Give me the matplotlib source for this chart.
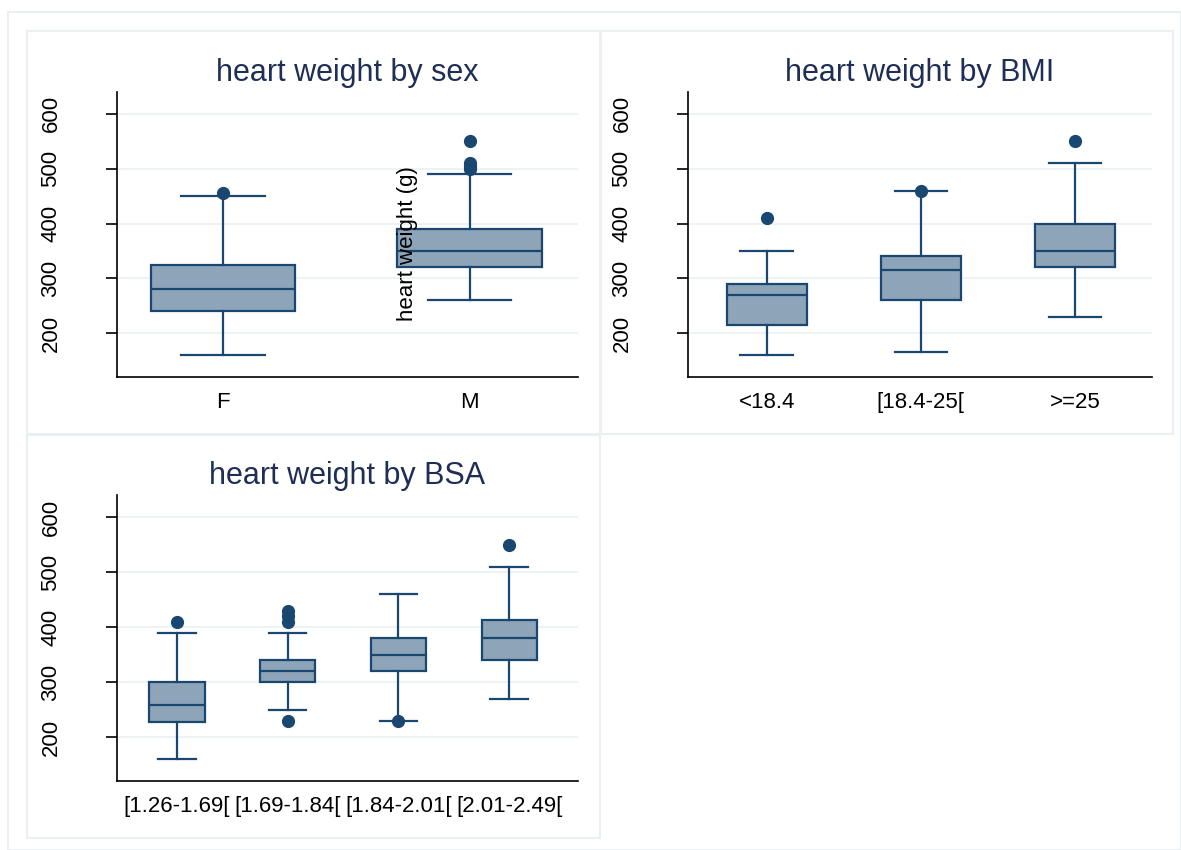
import matplotlib
matplotlib.use("Agg")
import matplotlib.pyplot as plt
from matplotlib.patches import Rectangle

plt.rcParams['font.family'] = ['Liberation Sans', 'DejaVu Sans']

# heart weight (g) by sex
sex_labels = ["F", "M"]
sex_whislo = [160, 260]
sex_q1 = [240, 320]
sex_med = [280, 350]
sex_q3 = [325, 390]
sex_whishi = [450, 490]
sex_fliers = [[455], [500, 505, 510, 550]]

# heart weight by BMI
bmi_labels = ["<18.4", "[18.4-25[", ">=25"]
bmi_whislo = [160, 165, 230]
bmi_q1 = [215, 260, 320]
bmi_med = [270, 315, 350]
bmi_q3 = [290, 340, 400]
bmi_whishi = [350, 460, 510]
bmi_fliers = [[410], [460], [550]]

# heart weight by BSA
bsa_labels = ["[1.26-1.69[", "[1.69-1.84[", "[1.84-2.01[", "[2.01-2.49["]
bsa_whislo = [160, 250, 230, 270]
bsa_q1 = [228, 300, 320, 340]
bsa_med = [258, 320, 350, 380]
bsa_q3 = [300, 340, 380, 412]
bsa_whishi = [390, 390, 460, 510]
bsa_fliers = [[410], [230, 410, 420, 430], [230], [550]]

NAVY = "#1A476F"
FILL = "#8EA4B8"
TITLE = "#1F2E55"
GRID = "#EAF0F2"
W, H = 1181, 850


def fig_rect(left, top, right, bottom):
    return [left / W, 1 - bottom / H, (right - left) / W, (bottom - top) / H]


def box_panel(ax, title, labels, whislo, q1, med, q3, whishi, fliers, xlim, width):
    stats = []
    for i in range(len(labels)):
        stats.append(dict(whislo=whislo[i], q1=q1[i], med=med[i], q3=q3[i],
                          whishi=whishi[i], fliers=fliers[i]))
    pos = list(range(len(labels)))
    ax.bxp(stats, positions=pos, widths=width, patch_artist=True,
           capwidths=0.34,
           boxprops=dict(facecolor=FILL, edgecolor=NAVY, linewidth=1.6),
           medianprops=dict(color=NAVY, linewidth=1.6),
           whiskerprops=dict(color=NAVY, linewidth=1.6),
           capprops=dict(color=NAVY, linewidth=1.6),
           flierprops=dict(marker="o", markerfacecolor=NAVY, markeredgecolor=NAVY,
                           markersize=8.5, linestyle="none"))
    ax.set_xlim(*xlim)
    ax.set_ylim(120, 640)
    ax.set_yticks([200, 300, 400, 500, 600])
    ax.set_xticks(pos)
    ax.set_xticklabels(labels)
    ax.grid(axis="y", color=GRID, linewidth=1.2)
    ax.set_axisbelow(True)
    ax.patch.set_alpha(0)
    for s in ["top", "right"]:
        ax.spines[s].set_visible(False)
    ax.spines["left"].set_linewidth(1.2)
    ax.spines["bottom"].set_linewidth(1.2)
    ax.tick_params(axis="y", length=8, width=1.2, pad=32, labelsize=16,
                   labelrotation=90)
    for lab in ax.get_yticklabels():
        lab.set_va("center")
    ax.tick_params(axis="x", length=0, pad=11, labelsize=16)
    ax.set_title(title, color=TITLE, fontsize=22, pad=8)


fig = plt.figure(figsize=(W / 100, H / 100), dpi=100)

# outer frame and panel frames, kept behind the axes
fig.patches.append(Rectangle((8 / W, 0), (W - 8) / W, 1 - 12 / H, transform=fig.transFigure,
                             facecolor="white", edgecolor=GRID, linewidth=1.5, zorder=-2))
for l, t, r, b in [(27, 31, 600, 434), (601, 31, 1173, 434), (27, 435, 600, 838)]:
    x0, y0, w, h = fig_rect(l, t, r, b)
    fig.patches.append(Rectangle((x0, y0), w, h, transform=fig.transFigure,
                                 facecolor="white", edgecolor=GRID, linewidth=1.5, zorder=-1))

ax1 = fig.add_axes(fig_rect(117, 92, 578, 377))
box_panel(ax1, "heart weight by sex", sex_labels, sex_whislo, sex_q1, sex_med,
          sex_q3, sex_whishi, sex_fliers, (-0.43, 1.44), 0.585)

ax2 = fig.add_axes(fig_rect(688, 92, 1152, 377))
box_panel(ax2, "heart weight by BMI", bmi_labels, bmi_whislo, bmi_q1, bmi_med,
          bmi_q3, bmi_whishi, bmi_fliers, (-0.51, 2.5), 0.52)

ax3 = fig.add_axes(fig_rect(117, 495, 578, 781))
box_panel(ax3, "heart weight by BSA", bsa_labels, bsa_whislo, bsa_q1, bsa_med,
          bsa_q3, bsa_whishi, bsa_fliers, (-0.54, 3.62), 0.5)

# stray y title that sits inside the first panel
fig.text(408 / W, 1 - 244 / H, "heart weight (g)", rotation=90, ha="center",
         va="center", fontsize=16, color="black", zorder=5)

fig.savefig("out.png", dpi=100, facecolor="white")
